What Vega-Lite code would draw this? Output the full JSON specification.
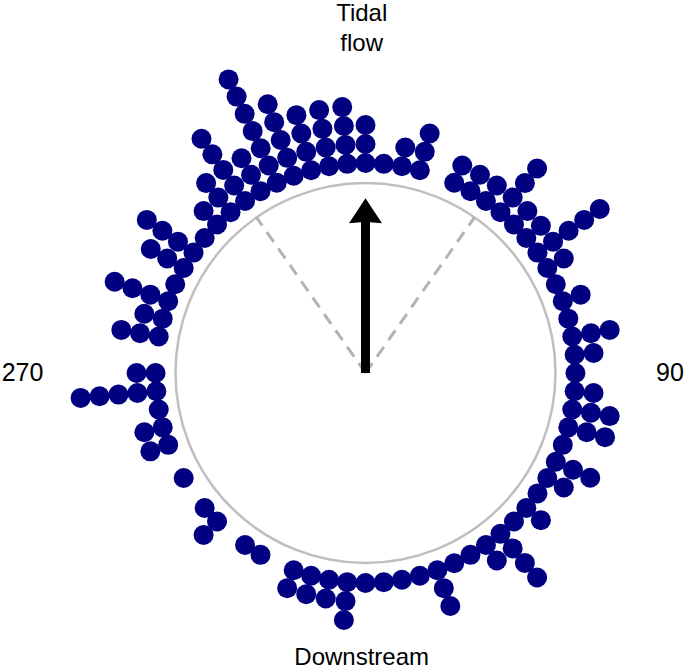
{
  "$schema": "https://vega.github.io/schema/vega-lite/v6.json",
  "width": 685,
  "height": 672,
  "autosize": "none",
  "padding": 0,
  "background": "white",
  "config": {"view": {"stroke": null}},
  "resolve": {"scale": {"x": "shared", "y": "shared"}},
  "layer": [
    {
      "data": {"values": [{"cx": 0, "cy": 0}]},
      "mark": {"type": "point", "shape": "circle", "filled": false, "size": 144400, "color": "#bfbfbf", "strokeWidth": 2.5, "opacity": 1},
      "encoding": {
        "x": {"field": "cx", "type": "quantitative", "axis": null, "scale": {"domain": [-1.92368, 1.68158], "nice": false, "zero": false}},
        "y": {"field": "cy", "type": "quantitative", "axis": null, "scale": {"domain": [-1.57368, 1.96316], "nice": false, "zero": false}}
      }
    },
    {
      "data": {"values": [{"angle": -35}, {"angle": 35}]},
      "transform": [
        {"calculate": "0", "as": "x0"},
        {"calculate": "0", "as": "y0"},
        {"calculate": "sin(datum.angle * PI / 180)", "as": "xe"},
        {"calculate": "cos(datum.angle * PI / 180)", "as": "ye"}
      ],
      "mark": {"type": "rule", "color": "#b3b3b3", "strokeWidth": 3, "strokeDash": [12, 8]},
      "encoding": {
        "x": {"field": "x0", "type": "quantitative", "axis": null},
        "y": {"field": "y0", "type": "quantitative", "axis": null},
        "x2": {"field": "xe"},
        "y2": {"field": "ye"}
      }
    },
    {
      "data": {"values": [{"angle": 0, "rho": 0.92}]},
      "transform": [
        {"calculate": "0", "as": "x0"},
        {"calculate": "0", "as": "y0"},
        {"calculate": "(datum.rho - 0.11) * sin(datum.angle * PI / 180)", "as": "xe"},
        {"calculate": "(datum.rho - 0.11) * cos(datum.angle * PI / 180)", "as": "ye"}
      ],
      "mark": {"type": "rule", "color": "black", "strokeWidth": 9, "strokeCap": "butt"},
      "encoding": {
        "x": {"field": "x0", "type": "quantitative", "axis": null},
        "y": {"field": "y0", "type": "quantitative", "axis": null},
        "x2": {"field": "xe"},
        "y2": {"field": "ye"}
      }
    },
    {
      "data": {"values": [{"angle": 0, "rho": 0.92}]},
      "transform": [
        {"calculate": "datum.rho * sin(datum.angle * PI / 180)", "as": "xt"},
        {"calculate": "datum.rho * cos(datum.angle * PI / 180)", "as": "yt"}
      ],
      "mark": {"type": "point", "shape": "M0,0L1,1.52L0.3,1.45L-0.3,1.45L-1,1.52Z", "filled": true, "size": 1089, "color": "black", "opacity": 1},
      "encoding": {
        "x": {"field": "xt", "type": "quantitative", "axis": null},
        "y": {"field": "yt", "type": "quantitative", "axis": null}
      }
    },
    {
      "data": {"values": [
        {"angle": 0}, {"angle": 0}, {"angle": 0},
        {"angle": 5},
        {"angle": 10}, {"angle": 10},
        {"angle": 15}, {"angle": 15}, {"angle": 15},
        {"angle": 25}, {"angle": 25},
        {"angle": 30}, {"angle": 30},
        {"angle": 35}, {"angle": 35},
        {"angle": 40}, {"angle": 40}, {"angle": 40}, {"angle": 40},
        {"angle": 45}, {"angle": 45},
        {"angle": 50}, {"angle": 50},
        {"angle": 55}, {"angle": 55}, {"angle": 55}, {"angle": 55}, {"angle": 55},
        {"angle": 60}, {"angle": 60},
        {"angle": 65},
        {"angle": 70}, {"angle": 70},
        {"angle": 75},
        {"angle": 80}, {"angle": 80}, {"angle": 80},
        {"angle": 85}, {"angle": 85},
        {"angle": 90},
        {"angle": 95}, {"angle": 95},
        {"angle": 100}, {"angle": 100}, {"angle": 100},
        {"angle": 105}, {"angle": 105}, {"angle": 105},
        {"angle": 110},
        {"angle": 115}, {"angle": 115}, {"angle": 115},
        {"angle": 120}, {"angle": 120},
        {"angle": 125},
        {"angle": 130}, {"angle": 130},
        {"angle": 135},
        {"angle": 140}, {"angle": 140}, {"angle": 140}, {"angle": 140},
        {"angle": 145}, {"angle": 145},
        {"angle": 150},
        {"angle": 155},
        {"angle": 160}, {"angle": 160}, {"angle": 160},
        {"angle": 165},
        {"angle": 170},
        {"angle": 175},
        {"angle": 180},
        {"angle": 185}, {"angle": 185}, {"angle": 185},
        {"angle": 190}, {"angle": 190},
        {"angle": 195}, {"angle": 195},
        {"angle": 200}, {"angle": 200},
        {"angle": 210},
        {"angle": 215},
        {"angle": 225}, {"angle": 225},
        {"angle": 230},
        {"angle": 240},
        {"angle": 250}, {"angle": 250},
        {"angle": 255}, {"angle": 255},
        {"angle": 260},
        {"angle": 265}, {"angle": 265}, {"angle": 265}, {"angle": 265}, {"angle": 265},
        {"angle": 270}, {"angle": 270},
        {"angle": 280}, {"angle": 280}, {"angle": 280},
        {"angle": 285}, {"angle": 285},
        {"angle": 290}, {"angle": 290}, {"angle": 290}, {"angle": 290},
        {"angle": 295},
        {"angle": 300}, {"angle": 300}, {"angle": 300},
        {"angle": 305}, {"angle": 305}, {"angle": 305}, {"angle": 305},
        {"angle": 310},
        {"angle": 315}, {"angle": 315},
        {"angle": 320}, {"angle": 320}, {"angle": 320},
        {"angle": 325}, {"angle": 325}, {"angle": 325}, {"angle": 325}, {"angle": 325},
        {"angle": 330}, {"angle": 330}, {"angle": 330},
        {"angle": 335}, {"angle": 335}, {"angle": 335}, {"angle": 335}, {"angle": 335}, {"angle": 335}, {"angle": 335},
        {"angle": 340}, {"angle": 340}, {"angle": 340}, {"angle": 340}, {"angle": 340},
        {"angle": 345}, {"angle": 345}, {"angle": 345}, {"angle": 345},
        {"angle": 350}, {"angle": 350}, {"angle": 350}, {"angle": 350},
        {"angle": 355}, {"angle": 355}, {"angle": 355}, {"angle": 355}
      ]},
      "transform": [
        {"window": [{"op": "row_number", "as": "k"}], "groupby": ["angle"]},
        {"calculate": "1.105 + 0.1 * (datum.k - 1)", "as": "r"},
        {"calculate": "datum.r * sin(datum.angle * PI / 180)", "as": "px"},
        {"calculate": "datum.r * cos(datum.angle * PI / 180)", "as": "py"}
      ],
      "mark": {"type": "point", "shape": "circle", "filled": true, "size": 400, "color": "#000080", "opacity": 1},
      "encoding": {
        "x": {"field": "px", "type": "quantitative", "axis": null},
        "y": {"field": "py", "type": "quantitative", "axis": null}
      }
    },
    {
      "data": {"values": [
        {"label": ["Tidal", "flow"], "lx": -0.02, "ly": 1.852},
        {"label": "Downstream", "lx": -0.02, "ly": -1.536}
      ]},
      "mark": {"type": "text", "font": "Liberation Sans", "fontSize": 24, "align": "center", "baseline": "alphabetic", "lineHeight": 30, "color": "black"},
      "encoding": {
        "x": {"field": "lx", "type": "quantitative", "axis": null},
        "y": {"field": "ly", "type": "quantitative", "axis": null},
        "text": {"field": "label"}
      }
    },
    {
      "data": {"values": [
        {"label": "270", "lx": -1.805, "ly": 0},
        {"label": "90", "lx": 1.6026, "ly": 0}
      ]},
      "mark": {"type": "text", "font": "Liberation Sans", "fontSize": 25, "align": "center", "baseline": "middle", "color": "black"},
      "encoding": {
        "x": {"field": "lx", "type": "quantitative", "axis": null},
        "y": {"field": "ly", "type": "quantitative", "axis": null},
        "text": {"field": "label"}
      }
    }
  ]
}
